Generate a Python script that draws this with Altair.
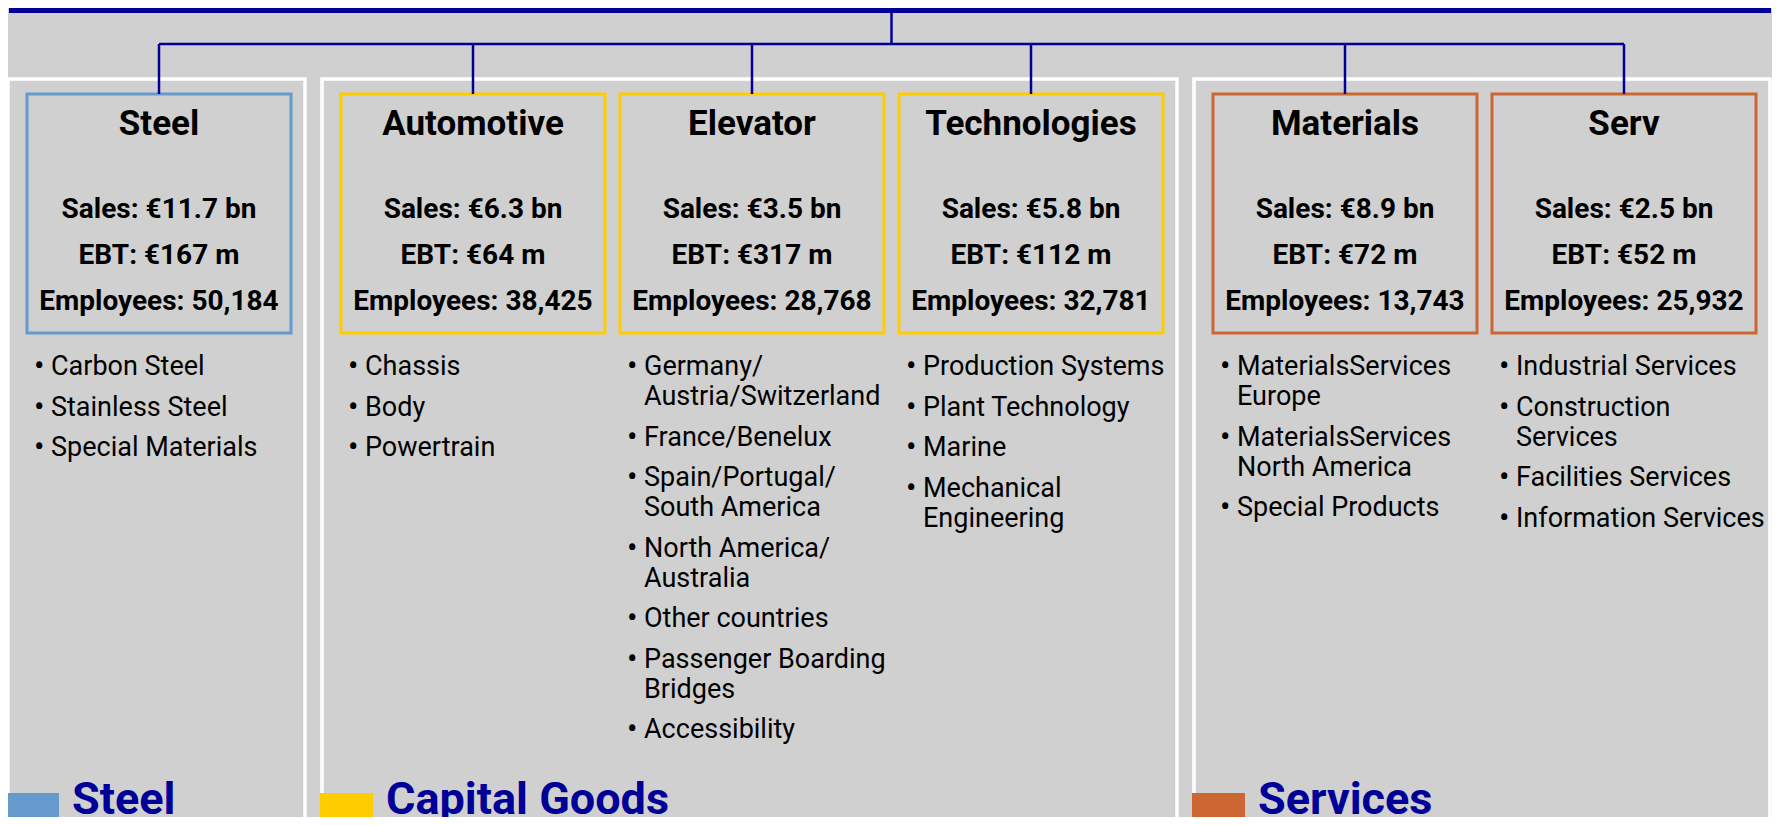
import altair as alt
import pandas as pd

# ---------------- data ----------------
divisions = ["Steel", "Automotive", "Elevator", "Technologies", "Materials", "Serv"]
division_group = ["Steel", "Capital Goods", "Capital Goods", "Capital Goods", "Services", "Services"]
sales_bn = ["11.7", "6.3", "3.5", "5.8", "8.9", "2.5"]
ebt_m = [167, 64, 317, 112, 72, 52]
employees = [50184, 38425, 28768, 32781, 13743, 25932]
units = [
    [["Carbon Steel"], ["Stainless Steel"], ["Special Materials"]],
    [["Chassis"], ["Body"], ["Powertrain"]],
    [["Germany/", "Austria/Switzerland"], ["France/Benelux"], ["Spain/Portugal/", "South America"],
     ["North America/", "Australia"], ["Other countries"], ["Passenger Boarding", "Bridges"], ["Accessibility"]],
    [["Production Systems"], ["Plant Technology"], ["Marine"], ["Mechanical", "Engineering"]],
    [["MaterialsServices", "Europe"], ["MaterialsServices", "North America"], ["Special Products"]],
    [["Industrial Services"], ["Construction", "Services"], ["Facilities Services"], ["Information Services"]],
]
groups = ["Steel", "Capital Goods", "Services"]
group_colors = ["#6699CC", "#FFCC00", "#CC6633"]

# ---------------- layout ----------------
NAVY = "#000099"
BG = "#D0D0D0"
FONT = "Roboto"
W, H = 1764, 809
X0, Y0 = 8, 8
PANEL_X0, PANEL_GAP, BOX_OFF, BOX_PITCH, BOX_W, PANEL_PAD_R = 8, 17, 19, 279, 264, 14
PANEL_TOP, BOX_TOP, BOX_BOTTOM = 79, 94, 333
CONN_Y = 44
TITLE_Y = 124
STAT_Y = [210, 256, 302]
LIST_Y0, ITEM_STEP, LINE_STEP = 367, 40.5, 30
LABEL_BASE = 814

gcolor = dict(zip(groups, group_colors))

panels, box_x = [], {}
x = PANEL_X0
for g in groups:
    members = [i for i, d in enumerate(divisions) if division_group[i] == g]
    for k, i in enumerate(members):
        box_x[i] = x + BOX_OFF + k * BOX_PITCH
    right = x + BOX_OFF + (len(members) - 1) * BOX_PITCH + BOX_W + PANEL_PAD_R
    panels.append(dict(group=g, x=x, x2=right, y=PANEL_TOP, y2=900, color=gcolor[g]))
    x = right + PANEL_GAP
panels_df = pd.DataFrame(panels)

boxes_df = pd.DataFrame([
    dict(name=d, x=box_x[i], x2=box_x[i] + BOX_W, y=BOX_TOP, y2=BOX_BOTTOM,
         cx=box_x[i] + BOX_W / 2, color=gcolor[division_group[i]])
    for i, d in enumerate(divisions)
])

centers = list(boxes_df["cx"])
rules = [dict(x=centers[0], x2=centers[-1], y=CONN_Y, y2=CONN_Y)]
for c in centers:
    rules.append(dict(x=c, x2=c, y=CONN_Y, y2=BOX_TOP))
mid = (centers[0] + centers[-1]) / 2
rules.append(dict(x=mid, x2=mid, y=Y0, y2=CONN_Y))
rules_df = pd.DataFrame(rules)

topbar_df = pd.DataFrame([dict(x=X0 + 1, x2=X0 + W - 1, y=Y0, y2=Y0 + 5)])

title_df = pd.DataFrame([dict(x=c, y=TITLE_Y, t=d) for c, d in zip(centers, divisions)])
stats = []
for i, c in enumerate(centers):
    stats.append(dict(x=c, y=STAT_Y[0], t=f"Sales: €{sales_bn[i]} bn"))
    stats.append(dict(x=c, y=STAT_Y[1], t=f"EBT: €{ebt_m[i]} m"))
    stats.append(dict(x=c, y=STAT_Y[2], t=f"Employees: {employees[i]:,}"))
stats_df = pd.DataFrame(stats)

lines, bullets = [], []
for i, items in enumerate(units):
    y = LIST_Y0
    for item in items:
        bullets.append(dict(x=box_x[i] + 7, y=y, t="•"))
        for j, ln in enumerate(item):
            if j > 0:
                y += LINE_STEP
            lines.append(dict(x=box_x[i] + 24, y=y, t=ln))
        y += ITEM_STEP
lines_df = pd.DataFrame(lines)
bullets_df = pd.DataFrame(bullets)

squares_df = pd.DataFrame([dict(x=p["x"] - 2, x2=p["x"] + 51, y=793, y2=900, color=p["color"]) for p in panels])
labels_df = pd.DataFrame([dict(x=p["x"] + 64, y=LABEL_BASE, t=p["group"]) for p in panels])

xs = alt.Scale(domain=[X0, X0 + W], nice=False, zero=False)
ys = alt.Scale(domain=[Y0, Y0 + H], nice=False, zero=False, reverse=True)


def X(f="x"):
    return alt.X(f"{f}:Q", scale=xs, axis=None)


def Y(f="y"):
    return alt.Y(f"{f}:Q", scale=ys, axis=None)


panel_layer = alt.Chart(panels_df).mark_rect(fillOpacity=0, stroke="white", strokeWidth=3.5, clip=True).encode(
    x=X(), x2="x2:Q", y=Y(), y2="y2:Q")
box_layer = alt.Chart(boxes_df).mark_rect(fillOpacity=0, strokeWidth=3, clip=True).encode(
    x=X(), x2="x2:Q", y=Y(), y2="y2:Q", stroke=alt.Stroke("color:N", scale=None))
rule_layer = alt.Chart(rules_df).mark_rule(color=NAVY, strokeWidth=2.5, clip=True).encode(
    x=X(), x2="x2:Q", y=Y(), y2="y2:Q")
topbar_layer = alt.Chart(topbar_df).mark_rect(color=NAVY, clip=True).encode(
    x=X(), x2="x2:Q", y=Y(), y2="y2:Q")
title_layer = alt.Chart(title_df).mark_text(font=FONT, fontSize=35, fontWeight="bold", color="black",
                                             align="center", baseline="middle").encode(x=X(), y=Y(), text="t:N")
stats_layer = alt.Chart(stats_df).mark_text(font=FONT, fontSize=28, fontWeight="bold", color="black",
                                             align="center", baseline="middle").encode(x=X(), y=Y(), text="t:N")
lines_layer = alt.Chart(lines_df).mark_text(font=FONT, fontSize=27, color="black",
                                             align="left", baseline="middle").encode(x=X(), y=Y(), text="t:N")
bullet_layer = alt.Chart(bullets_df).mark_text(font=FONT, fontSize=31, color="black",
                                                align="left", baseline="middle").encode(x=X(), y=Y(), text="t:N")
square_layer = alt.Chart(squares_df).mark_rect(clip=True).encode(
    x=X(), x2="x2:Q", y=Y(), y2="y2:Q", fill=alt.Fill("color:N", scale=None))
label_layer = alt.Chart(labels_df).mark_text(font=FONT, fontSize=45, fontWeight="bold", color=NAVY,
                                              align="left", baseline="alphabetic").encode(x=X(), y=Y(), text="t:N")

chart = alt.layer(
    panel_layer, box_layer, rule_layer, topbar_layer, title_layer, stats_layer,
    lines_layer, bullet_layer, square_layer, label_layer
).properties(
    width=W, height=H, padding=0, autosize=alt.AutoSizeParams(type="none"), background=BG
).configure_view(strokeWidth=0)

chart.save("out.html", embed_options={"renderer": "svg", "actions": False})
